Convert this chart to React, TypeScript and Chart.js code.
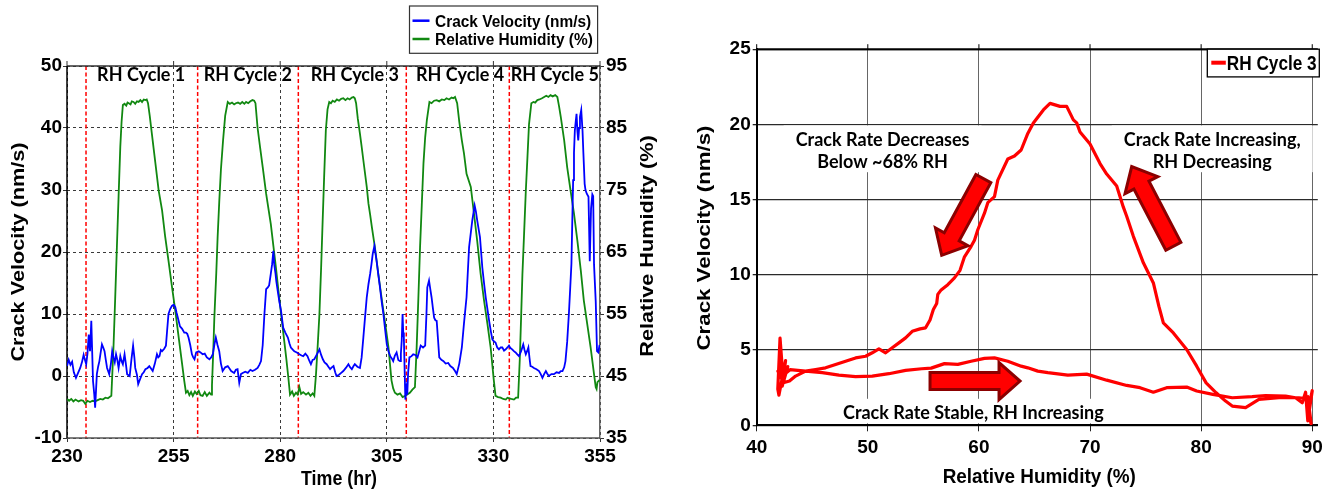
import React, { useEffect, useRef } from "react";
import { Chart, registerables } from "chart.js";

Chart.register(...registerables);

// ---------------- Left panel data (time series) ----------------
const timeCV = [
  230.0, 230.4, 230.8, 231.2, 231.6, 232.1, 232.6, 233.1, 233.5, 233.9, 234.2, 234.5, 234.8, 235.1, 235.4, 235.7,
  236.1, 236.4, 236.6, 237.0, 237.3, 237.6, 237.9, 238.2, 238.5, 238.8, 239.1, 239.4, 239.9, 240.3, 240.6, 240.9,
  241.2, 241.5, 241.8, 242.1, 242.5, 242.8, 243.1, 243.5, 243.8, 244.1, 244.7, 245.1, 245.5, 245.8, 246.0, 246.4,
  246.7, 247.2, 247.6, 248.0, 248.4, 248.9, 249.3, 249.7, 250.1, 250.6, 251.1, 251.4, 251.7, 252.0, 252.3, 252.8,
  253.2, 253.5, 253.8, 254.2, 254.6, 255.0, 255.4, 255.7, 256.0, 256.5, 257.0, 257.5, 257.9, 258.2, 258.5, 258.9,
  259.3, 259.6, 259.9, 260.3, 260.9, 261.3, 261.8, 262.3, 262.8, 263.4, 263.8, 264.2, 264.6, 264.9, 265.3, 265.7,
  266.1, 266.5, 267.1, 267.7, 268.1, 268.5, 269.2, 269.6, 270.0, 270.4, 270.8, 271.2, 271.8, 272.4, 273.0, 273.5,
  274.1, 274.7, 275.1, 275.5, 275.9, 276.3, 276.7, 277.1, 277.4, 277.8, 278.1, 278.4, 278.6, 278.9, 279.1, 279.4,
  279.8, 280.2, 280.7, 281.2, 281.8, 282.2, 282.5, 283.0, 283.3, 283.9, 284.5, 285.0, 285.4, 285.9, 286.4, 286.8,
  287.2, 287.6, 288.0, 288.6, 289.2, 289.6, 290.0, 290.4, 290.9, 291.3, 291.7, 292.1, 292.5, 292.9, 293.2, 293.8,
  294.3, 294.8, 295.4, 296.0, 296.4, 296.8, 297.2, 297.5, 298.1, 298.7, 299.1, 299.5, 299.9, 300.3, 300.7, 301.1,
  301.4, 301.7, 302.1, 302.3, 302.6, 303.0, 303.4, 303.8, 304.2, 304.6, 305.0, 305.4, 305.8, 306.2, 306.5, 306.9,
  307.3, 307.7, 308.1, 308.3, 308.5, 308.7, 308.85, 309.0, 309.2, 309.35, 309.6, 309.8, 310.0, 310.3, 310.8, 311.2,
  311.7, 312.2, 312.6, 312.95, 313.5, 314.0, 314.3, 314.5, 314.9, 315.2, 315.5, 315.8, 316.1, 316.4, 316.7, 317.0,
  317.3, 317.8, 318.3, 318.8, 319.4, 319.9, 320.5, 321.0, 321.4, 322.0, 322.6, 323.1, 323.7, 324.3, 325.05, 325.6,
  325.9, 326.2, 326.85, 327.4, 327.8, 328.2, 328.6, 329.0, 329.4, 329.75, 330.1, 330.5, 330.9, 331.3, 331.7, 332.1,
  332.5, 332.9, 333.3, 333.65, 334.0, 334.4, 334.8, 335.2, 335.6, 336.0, 336.5, 337.0, 337.3, 337.6, 337.9, 338.2,
  338.45, 338.7, 339.1, 339.5, 340.1, 340.7, 341.1, 341.5, 341.9, 342.3, 342.6, 343.0, 343.6, 344.2, 344.8, 345.4,
  345.8, 346.2, 346.6, 346.9, 347.3, 347.7, 348.0, 348.3, 348.5, 348.7, 348.9, 349.1, 349.3, 349.5, 349.7, 349.9,
  350.1, 350.3, 350.6, 350.9, 351.1, 351.4, 351.6, 351.9, 352.3, 352.6, 352.9, 353.2, 353.4, 353.6, 354.0, 354.3,
  354.6, 354.9,
];
const velocity = [
  1.6, 2.6, 1.8, 2.3, 0.6, -0.3, 0.5, 1.3, 2.2, 3.4, 2.6, 1.9, 3.6, 6.7, 4.0, 8.9,
  -0.8, -3.0, -5.1, 0.3, 1.5, 2.4, 3.8, 5.1, 4.6, 4.0, 2.6, 1.3, 0.3, 2.0, 4.0, 3.0,
  2.2, 3.5, 2.6, 1.3, 3.2, 2.4, 1.9, 3.5, 2.0, 0.3, 0.0, 2.6, 4.9, 3.0, 1.3, 0.2,
  -1.3, -0.4, 0.3, 0.6, 1.1, 1.3, 1.6, 1.2, 0.8, 2.0, 3.5, 3.0, 3.2, 4.2, 4.0, 4.4,
  4.9, 7.5, 10.0, 10.8, 11.3, 11.5, 11.1, 10.2, 9.4, 8.0, 7.6, 7.0, 7.0, 6.8, 6.2, 5.0,
  3.5, 3.0, 2.7, 3.8, 4.0, 3.8, 3.5, 3.6, 3.0, 2.7, 3.0, 3.5, 5.2, 6.2, 5.0, 4.0,
  2.0, 0.8, 1.4, 1.6, 1.2, 0.8, 0.5, 1.0, 1.1, -1.1, 0.3, 0.5, 0.7, 0.5, 1.0, 0.8,
  1.0, 1.3, 1.8, 2.4, 5.0, 10.0, 14.0, 14.3, 14.6, 16.5, 18.0, 20.2, 18.0, 16.5, 15.2, 13.8,
  12.0, 10.5, 7.8, 7.0, 6.2, 5.2, 4.6, 4.2, 4.0, 3.8, 3.5, 3.3, 3.2, 3.6, 3.2, 2.5,
  1.9, 2.6, 2.7, 3.5, 4.3, 3.4, 2.7, 2.2, 1.9, 1.5, 1.1, 1.4, 1.6, 0.6, 0.0, 0.2,
  0.5, 0.8, 1.3, 1.9, 1.4, 1.1, 1.6, 1.9, 1.5, 1.3, 3.0, 6.2, 9.5, 12.7, 14.8, 16.5,
  18.0, 19.7, 21.0, 20.0, 18.6, 16.4, 14.3, 12.0, 10.0, 7.5, 5.1, 4.0, 3.2, 2.8, 2.4, 3.3,
  3.8, 2.6, 2.4, 3.6, 5.7, 10.0, 7.0, 6.2, 0.5, -3.8, -2.0, -3.0, 0.5, 3.0, 3.2, 3.5,
  3.4, 3.0, 4.0, 4.9, 4.6, 4.9, 10.0, 14.3, 15.4, 14.0, 12.7, 11.0, 9.4, 9.0, 8.9, 6.0,
  3.0, 2.6, 2.4, 2.0, 2.1, 1.6, 1.3, 0.8, 0.3, 2.0, 4.6, 8.5, 12.7, 20.8, 25.1, 27.5,
  26.5, 25.1, 22.4, 17.5, 15.0, 12.7, 10.8, 8.9, 7.2, 5.9, 5.6, 5.4, 4.6, 4.3, 4.6, 4.6,
  4.1, 4.3, 4.6, 4.9, 4.5, 4.3, 4.0, 3.8, 3.5, 3.2, 4.0, 5.1, 4.2, 3.5, 4.0, 4.6,
  3.0, 1.6, 1.5, 1.3, 1.1, 0.8, 0.3, -0.3, 0.3, 0.8, 0.4, 0.0, 0.3, 0.3, 0.6, 0.5,
  0.8, 0.8, 1.4, 2.4, 5.5, 10.0, 14.0, 18.1, 25.0, 31.6, 36.0, 39.6, 41.0, 42.3, 39.5, 38.0,
  40.0, 41.8, 42.9, 39.6, 36.0, 31.0, 30.0, 29.4, 28.9, 18.5, 27.0, 29.3, 29.0, 18.0, 12.0, 4.0,
  3.8, 5.0,
];
const timeRH = [
  230.0, 230.5, 231.0, 231.5, 232.0, 232.7, 233.3, 233.8, 234.3, 234.8, 235.4, 236.0, 236.6, 237.2, 237.8, 238.4,
  239.0, 239.6, 240.4, 240.9, 241.3, 241.7, 242.1, 242.5, 242.8, 243.1, 243.5, 243.9, 244.2, 244.5, 244.9, 245.2,
  245.6, 246.0, 246.4, 246.8, 247.2, 247.6, 248.0, 248.4, 248.7, 249.0, 249.4, 249.9, 250.7, 251.5, 252.3, 253.0,
  253.8, 254.6, 255.4, 256.2, 257.0, 257.5, 257.9, 258.3, 258.7, 259.1, 259.5, 260.0, 260.4, 260.9, 261.3, 261.8,
  262.3, 262.8, 263.4, 263.8, 264.0, 264.3, 264.55, 265.0, 265.33, 265.7, 266.1, 266.6, 267.1, 267.7, 268.2, 268.7,
  269.2, 269.6, 270.1, 270.6, 271.1, 271.6, 272.0, 272.5, 273.0, 273.5, 273.9, 274.2, 274.7, 275.3, 275.9, 276.7,
  277.8, 278.4, 279.0, 279.6, 280.2, 280.8, 281.4, 281.9, 282.3, 282.8, 283.2, 283.7, 284.1, 284.5, 284.9, 285.4,
  286.05, 286.6, 287.1, 287.6, 288.0, 288.4, 288.8, 289.2, 289.6, 289.96, 290.3, 290.7, 291.1, 291.5, 291.9, 292.3,
  292.8, 293.3, 293.8, 294.3, 294.8, 295.3, 295.8, 296.3, 296.8, 297.2, 297.5, 297.8, 298.2, 298.7, 299.1, 299.5,
  300.3, 300.7, 301.1, 301.5, 302.2, 303.0, 303.6, 304.2, 304.8, 305.4, 305.8, 306.1, 306.5, 306.9, 307.5, 308.1,
  308.7, 309.3, 309.8, 310.4, 311.0, 311.6, 312.0, 312.4, 312.8, 313.2, 313.6, 314.0, 314.4, 315.0, 315.5, 316.1,
  316.7, 317.3, 317.9, 318.5, 319.0, 319.6, 320.2, 320.6, 321.0, 321.5, 322.0, 322.6, 323.1, 323.7, 324.7, 325.45,
  326.2, 327.0, 327.8, 328.6, 329.35, 330.1, 330.5, 331.1, 331.7, 332.3, 332.9, 333.3, 333.7, 334.2, 334.8, 335.3,
  335.8, 336.2, 336.5, 336.8, 337.2, 337.6, 338.0, 338.35, 338.9, 339.4, 339.8, 340.3, 340.8, 341.4, 341.9, 342.4,
  342.9, 343.4, 343.9, 344.5, 345.0, 345.4, 345.8, 346.6, 347.3, 348.1, 348.9, 349.7, 350.5, 351.2, 352.0, 352.8,
  353.6, 354.0, 354.2, 354.4, 354.8, 355.0,
];
const humidity = [
  41.3, 41.0, 41.3, 40.9, 41.2, 40.9, 41.1, 41.0, 40.5, 41.0, 40.8, 41.0, 40.9, 41.1, 41.3, 41.2,
  41.5, 41.4, 41.8, 49.6, 57.5, 65.8, 74.0, 82.0, 86.0, 88.7, 88.9, 88.6, 89.1, 89.0, 88.8, 89.3,
  89.2, 88.9, 89.3, 89.2, 89.5, 89.2, 89.6, 89.5, 89.6, 89.0, 87.0, 84.1, 79.5, 74.9, 71.7, 67.6,
  63.6, 59.5, 55.5, 51.2, 46.9, 44.2, 42.3, 42.6, 41.9, 42.4, 41.8, 42.5, 42.1, 42.6, 41.9, 41.8,
  42.4, 41.8, 42.3, 42.0, 43.5, 49.0, 54.3, 61.5, 67.5, 73.0, 78.3, 83.0, 87.0, 89.2, 88.9, 89.1,
  88.8, 89.0, 89.1, 88.9, 89.2, 88.9, 89.2, 89.0, 89.3, 89.5, 89.4, 89.0, 85.0, 81.8, 78.7, 74.4,
  69.5, 66.0, 62.5, 58.7, 55.0, 51.5, 48.0, 44.8, 42.0, 42.5, 41.8, 42.3, 42.0, 43.2, 42.1, 42.4,
  42.0, 42.3, 41.8, 42.2, 41.8, 45.3, 50.0, 55.0, 62.5, 70.1, 77.0, 84.6, 88.0, 89.2, 89.0, 89.4,
  89.2, 89.6, 89.4, 89.7, 89.8, 89.5, 89.8, 89.6, 89.9, 90.0, 89.8, 89.0, 86.5, 84.1, 82.0, 79.8,
  75.5, 72.8, 71.0, 69.0, 65.8, 61.5, 58.5, 55.5, 52.6, 49.6, 46.5, 44.3, 43.0, 42.3, 42.0, 42.2,
  41.6, 41.8, 42.0, 42.3, 42.8, 43.2, 49.6, 57.5, 65.8, 72.5, 79.3, 83.5, 86.3, 89.2, 89.0, 89.4,
  89.5, 89.3, 89.6, 89.5, 89.8, 89.6, 89.9, 89.8, 90.0, 89.0, 86.0, 83.0, 80.9, 77.6, 75.5, 71.2,
  66.8, 61.5, 57.2, 53.4, 49.6, 44.3, 41.8, 41.6, 41.5, 41.3, 41.2, 41.5, 41.4, 41.3, 41.2, 41.5,
  41.5, 47.9, 54.5, 61.3, 68.0, 74.8, 80.5, 85.6, 89.0, 89.2, 89.1, 89.5, 89.6, 89.8, 90.0, 90.2,
  90.0, 90.3, 90.1, 90.3, 90.0, 88.5, 86.8, 83.0, 78.7, 74.9, 71.2, 66.8, 62.0, 57.2, 53.4, 49.6,
  45.3, 43.2, 42.9, 44.0, 44.3, 44.2,
];
const cycleBoundaries = [234.46, 260.64, 284.25, 309.57, 333.73];
const cycleNames = ["RH Cycle 1", "RH Cycle 2", "RH Cycle 3", "RH Cycle 4", "RH Cycle 5"];
const cycleLabelTimes = [247.4, 272.4, 297.5, 322.2, 344.4];

// ---------------- Right panel data (RH Cycle 3 loop) ----------------
const loopRH = [
  42.0, 42.3, 41.9, 42.5, 43.0, 44.4, 45.9, 47.4, 48.9, 50.4, 51.9, 53.4, 54.85, 55.7, 56.9, 58.1,
  59.3, 60.5, 61.4, 62.6, 63.8, 64.4, 65.3, 66.2, 68.0, 69.7, 71.5, 73.3, 74.5, 75.7, 76.9, 78.7,
  79.6, 81.05, 82.8, 84.6, 85.8, 87.6, 88.5, 89.1, 89.4, 89.6, 89.8, 90.0, 89.7, 89.5, 89.9, 89.6,
  89.2, 88.8, 87.0, 85.2, 84.0, 82.8, 82.2, 81.35, 80.45, 79.6, 78.7, 77.5, 76.6, 76.2, 75.7, 74.8,
  73.9, 73.3, 73.0, 72.4, 71.5, 70.9, 70.0, 69.1, 68.8, 68.5, 67.9, 67.3, 66.4, 65.8, 64.9, 64.4,
  63.8, 63.2, 62.6, 61.7, 61.4, 60.8, 60.5, 59.9, 59.6, 59.3, 58.7, 58.3, 57.8, 57.2, 56.6, 56.3,
  56.2, 55.9, 55.6, 55.2, 54.7, 54.0, 53.4, 52.8, 52.2, 51.6, 51.0, 50.4, 49.8, 48.9, 48.0, 47.1,
  46.2, 45.3, 44.4, 43.5, 42.95, 42.4, 42.1, 41.9, 42.0, 42.6, 42.3, 42.8, 42.2,
];
const loopVelocity = [
  4.2, 3.0, 3.6, 3.4, 3.7, 3.6, 3.5, 3.33, 3.24, 3.27, 3.43, 3.65, 3.76, 3.8, 4.1, 4.05,
  4.26, 4.45, 4.48, 4.26, 3.93, 3.82, 3.6, 3.5, 3.33, 3.4, 3.0, 2.65, 2.5, 2.2, 2.5, 2.54,
  2.28, 2.06, 1.83, 1.9, 1.98, 1.94, 1.83, 1.5, 2.2, 0.3, 1.6, 2.3, 0.8, 1.4, 0.1, 1.9,
  1.8, 1.83, 1.83, 1.72, 1.17, 1.28, 1.61, 2.16, 2.82, 3.93, 5.04, 6.14, 6.81, 7.9, 9.46, 10.8,
  12.56, 13.9, 14.5, 15.9, 16.7, 17.4, 18.7, 19.5, 20.1, 20.3, 21.2, 21.2, 21.4, 20.96, 20.1, 19.4,
  18.3, 17.9, 17.7, 16.3, 15.2, 14.8, 14.1, 13.0, 12.3, 11.9, 11.2, 10.3, 9.8, 9.35, 9.0, 8.7,
  8.1, 7.7, 7.0, 6.48, 6.41, 6.25, 5.81, 5.48, 5.15, 4.82, 5.08, 4.82, 4.59, 4.48, 4.26, 4.04,
  3.82, 3.71, 3.6, 3.27, 2.94, 2.83, 5.8, 2.4, 2.0, 4.3, 2.6, 3.9, 3.2,
];
const rhTicks = [40, 50, 60, 70, 80, 90];

// annotation anchors (data units of the right panel)
const annotations = [
  { lines: ["Crack Rate Decreases", "Below ~68% RH"], rh: 51.33, base: [18.57, 17.09] },
  { lines: ["Crack Rate Increasing,", "RH Decreasing"], rh: 81.0, base: [18.57, 17.09] },
  { lines: ["Crack Rate Stable, RH Increasing"], rh: 59.5, base: [0.4] },
];
const arrows = [
  { from: [60.4, 16.4], to: [56.65, 11.3] },
  { from: [77.5, 11.9], to: [73.75, 17.2] },
  { from: [55.6, 2.94], to: [63.7, 2.94] },
];

// ---------------- styling helpers ----------------
const SANS = "'Liberation Sans', Arial, Helvetica, sans-serif";
const CAL = "Lato, 'Open Sans', sans-serif";
const TICK_FONT = { family: SANS, size: 19, weight: "bold" as const };

function drawText(
  ctx: CanvasRenderingContext2D,
  text: string,
  x: number,
  y: number,
  font: string,
  opts: { sx?: number; rot?: number; align?: CanvasTextAlign; baseline?: CanvasTextBaseline; color?: string } = {}
) {
  ctx.save();
  ctx.translate(x, y);
  if (opts.rot) ctx.rotate(opts.rot);
  ctx.scale(opts.sx ?? 1, 1);
  ctx.font = font;
  ctx.fillStyle = opts.color ?? "#000";
  ctx.textAlign = opts.align ?? "center";
  ctx.textBaseline = opts.baseline ?? "alphabetic";
  ctx.fillText(text, 0, 0);
  ctx.restore();
}

function seg(ctx: CanvasRenderingContext2D, x0: number, y0: number, x1: number, y1: number) {
  ctx.beginPath();
  ctx.moveTo(x0, y0);
  ctx.lineTo(x1, y1);
  ctx.stroke();
}

function drawArrow(ctx: CanvasRenderingContext2D, x0: number, y0: number, x1: number, y1: number) {
  const dx = x1 - x0, dy = y1 - y0;
  const L = Math.hypot(dx, dy);
  const ux = dx / L, uy = dy / L;
  const nx = -uy, ny = ux;
  const sw = 8.5, hw = 18.5, hl = 21;
  const bx = x1 - ux * hl, by = y1 - uy * hl;
  const pts = [
    [x0 + nx * sw, y0 + ny * sw],
    [bx + nx * sw, by + ny * sw],
    [bx + nx * hw, by + ny * hw],
    [x1, y1],
    [bx - nx * hw, by - ny * hw],
    [bx - nx * sw, by - ny * sw],
    [x0 - nx * sw, y0 - ny * sw],
  ];
  ctx.beginPath();
  pts.forEach((p, i) => (i ? ctx.lineTo(p[0], p[1]) : ctx.moveTo(p[0], p[1])));
  ctx.closePath();
  ctx.fillStyle = "#ff0000";
  ctx.fill();
  ctx.strokeStyle = "#8b0000";
  ctx.lineWidth = 3;
  ctx.lineJoin = "miter";
  ctx.stroke();
}

// ---------------- plugins ----------------
const leftDecor = {
  id: "leftDecor",
  beforeDatasetsDraw(chart: any) {
    const { ctx, chartArea: a, scales } = chart;
    const x = scales.x;
    ctx.save();
    ctx.strokeStyle = "#ff0000";
    ctx.lineWidth = 1.5;
    ctx.setLineDash([4, 2.5]);
    cycleBoundaries.forEach((t) => {
      const px = x.getPixelForValue(t);
      seg(ctx, px, a.top, px, a.bottom);
    });
    ctx.setLineDash([]);
    // solid frame: top, left, bottom
    ctx.strokeStyle = "#333";
    ctx.lineWidth = 1.5;
    seg(ctx, a.left, a.top, a.right, a.top);
    ctx.strokeStyle = "#555";
    seg(ctx, a.left, a.bottom, a.right, a.bottom);
    ctx.strokeStyle = "#000";
    seg(ctx, a.left, a.top, a.left, a.bottom);
    ctx.strokeStyle = "#333";
    ctx.lineWidth = 1;
    x.ticks.forEach((t: any) => {
      const px = x.getPixelForValue(t.value);
      seg(ctx, px, a.top - 5, px, a.top);
    });
    ctx.restore();
  },
  afterDatasetsDraw(chart: any) {
    const { ctx, chartArea: a, scales } = chart;
    const x = scales.x;
    cycleNames.forEach((name, i) => {
      drawText(ctx, name, x.getPixelForValue(cycleLabelTimes[i]), a.top + 15, `bold 18px ${CAL}`);
    });
  },
  afterDraw(chart: any) {
    const { ctx, chartArea: a } = chart;
    ctx.save();
    // legend box
    const lx = 409.5, ly = 6, lw = a.right - 2.4 - 409.5, lh = 47.3;
    ctx.fillStyle = "#fff";
    ctx.fillRect(lx, ly, lw, lh);
    ctx.strokeStyle = "#333";
    ctx.lineWidth = 1.2;
    ctx.strokeRect(lx, ly, lw, lh);
    ctx.lineWidth = 2.5;
    ctx.strokeStyle = "#0000ff";
    seg(ctx, lx + 3, 20.7, lx + 20, 20.7);
    ctx.strokeStyle = "#118811";
    seg(ctx, lx + 3, 39, lx + 20, 39);
    drawText(ctx, "Crack Velocity (nm/s)", lx + 25.5, 26.7, `bold 16px ${SANS}`, { align: "left", sx: 0.965 });
    drawText(ctx, "Relative Humidity (%)", lx + 25.5, 44.5, `bold 16px ${SANS}`, { align: "left", sx: 0.965 });
    // axis titles
    const cy = (a.top + a.bottom) / 2;
    drawText(ctx, "Crack Velocity (nm/s)", a.left - 48, cy, `bold 19px ${SANS}`, {
      rot: -Math.PI / 2, sx: 1.14, baseline: "middle",
    });
    drawText(ctx, "Relative Humidity (%)", a.right + 48, cy - 6, `bold 19px ${SANS}`, {
      rot: -Math.PI / 2, sx: 1.14, baseline: "middle",
    });
    drawText(ctx, "Time (hr)", (a.left + a.right) / 2 + 5.5, a.bottom + 47, `bold 21px ${SANS}`, { sx: 0.85 });
    ctx.restore();
  },
};

const rightDecor = {
  id: "rightDecor",
  beforeDatasetsDraw(chart: any) {
    const { ctx, chartArea: a, scales } = chart;
    const { x, y } = scales;
    ctx.save();
    ctx.strokeStyle = "#000";
    ctx.lineWidth = 2;
    seg(ctx, a.left, a.top, a.right, a.top);
    ctx.lineWidth = 1;
    rhTicks.forEach((v) => {
      const px = x.getPixelForValue(v);
      seg(ctx, px, a.top - 5, px, a.top);
    });
    const font = `bold 18px ${CAL}`;
    ctx.font = font;
    annotations.forEach((an) => {
      const w = Math.max(...an.lines.map((l) => ctx.measureText(l).width));
      const cx = x.getPixelForValue(an.rh);
      const b0 = y.getPixelForValue(an.base[0]);
      const bl = y.getPixelForValue(an.base[an.base.length - 1]);
      ctx.fillStyle = "#fff";
      ctx.fillRect(cx - w / 2 - 12, b0 - 20.5, w + 24, bl - b0 + 24.5);
      an.lines.forEach((l, i) => drawText(ctx, l, cx, y.getPixelForValue(an.base[i]), font));
    });
    ctx.restore();
  },
  afterDatasetsDraw(chart: any) {
    const { ctx, chartArea: a, scales } = chart;
    const { x, y } = scales;
    ctx.save();
    arrows.forEach((ar) => {
      drawArrow(
        ctx,
        x.getPixelForValue(ar.from[0]), y.getPixelForValue(ar.from[1]),
        x.getPixelForValue(ar.to[0]), y.getPixelForValue(ar.to[1])
      );
    });
    // legend
    const lx = a.right - 110.5, ly = a.top, lw = 112, lh = 27.7;
    ctx.fillStyle = "#fff";
    ctx.fillRect(lx, ly, lw, lh);
    ctx.strokeStyle = "#000";
    ctx.lineWidth = 1.3;
    ctx.strokeRect(lx, ly, lw, lh);
    ctx.strokeStyle = "#ff0000";
    ctx.lineWidth = 4;
    seg(ctx, lx + 4, ly + 13.5, lx + 18.5, ly + 13.5);
    drawText(ctx, "RH Cycle 3", lx + 19.5, ly + 21, `bold 20px ${SANS}`, { align: "left", sx: 0.86 });
    ctx.restore();
  },
  afterDraw(chart: any) {
    const { ctx, chartArea: a } = chart;
    drawText(ctx, "Crack Velocity (nm/s)", a.left - 52, 238, `bold 19px ${SANS}`, {
      rot: -Math.PI / 2, sx: 1.17, baseline: "middle",
    });
    drawText(ctx, "Relative Humidity (%)", (a.left + a.right) / 2 + 2, 483, `bold 21px ${SANS}`, { sx: 0.9 });
  },
};

export default function App() {
  const leftRef = useRef<HTMLCanvasElement>(null);
  const rightRef = useRef<HTMLCanvasElement>(null);

  useEffect(() => {
    const left = new Chart(leftRef.current as HTMLCanvasElement, {
      type: "line",
      data: {
        datasets: [
          {
            label: "Crack Velocity (nm/s)",
            data: timeCV.map((t, i) => ({ x: t, y: velocity[i] })),
            borderColor: "#0000ff",
            borderWidth: 1.8,
            pointRadius: 0,
            tension: 0,
            yAxisID: "y",
          },
          {
            label: "Relative Humidity (%)",
            data: timeRH.map((t, i) => ({ x: t, y: humidity[i] })),
            borderColor: "#118811",
            borderWidth: 1.8,
            pointRadius: 0,
            tension: 0,
            yAxisID: "y2",
          },
        ],
      },
      options: {
        responsive: false,
        animation: false,
        events: [],
        layout: { padding: { top: 66, left: 0, right: 0, bottom: 0 } },
        plugins: { legend: { display: false }, tooltip: { enabled: false } },
        scales: {
          x: {
            type: "linear",
            min: 230,
            max: 355,
            ticks: { stepSize: 25, font: TICK_FONT, color: "#000", padding: 3, maxRotation: 0, autoSkip: false },
            grid: { color: "#3a3a3a", lineWidth: 1, tickLength: 4, tickColor: "#333" },
            border: { display: false, dash: [3, 3] },
            afterFit: (s: any) => { s.height = 52; },
          },
          y: {
            type: "linear",
            position: "left",
            min: -10,
            max: 50,
            ticks: { stepSize: 10, font: TICK_FONT, color: "#000", padding: 1 },
            grid: { color: "#3a3a3a", lineWidth: 1, tickLength: 4, tickColor: "#333" },
            border: { display: false, dash: [3, 3] },
            afterFit: (s: any) => { s.width = 67; },
          },
          y2: {
            type: "linear",
            position: "right",
            min: 35,
            max: 95,
            ticks: { stepSize: 10, font: TICK_FONT, color: "#000", padding: 2 },
            grid: { drawOnChartArea: false, tickLength: 4, tickColor: "#333" },
            border: { display: true, color: "#666", width: 1.5 },
            afterFit: (s: any) => { s.width = 60; },
          },
        },
      },
      plugins: [leftDecor],
    } as any);

    const right = new Chart(rightRef.current as HTMLCanvasElement, {
      type: "line",
      data: {
        datasets: [
          {
            label: "RH Cycle 3",
            data: loopRH.map((r, i) => ({ x: r, y: loopVelocity[i] })),
            borderColor: "#ff0000",
            borderWidth: 3.2,
            pointRadius: 0,
            tension: 0,
            borderJoinStyle: "round",
            borderCapStyle: "round",
          },
        ],
      },
      options: {
        responsive: false,
        animation: false,
        events: [],
        layout: { padding: { top: 49.2, left: 0, right: 10.2, bottom: 0 } },
        plugins: { legend: { display: false }, tooltip: { enabled: false } },
        scales: {
          x: {
            type: "linear",
            min: 40,
            max: 90.5,
            afterBuildTicks: (s: any) => { s.ticks = rhTicks.map((v) => ({ value: v })); },
            ticks: { font: TICK_FONT, color: "#000", padding: 5, maxRotation: 0, autoSkip: false },
            grid: { color: "#666", lineWidth: 1, tickLength: 6, tickColor: "#222" },
            border: { display: true, color: "#000", width: 2 },
            afterFit: (s: any) => { s.height = 64.7; },
          },
          y: {
            type: "linear",
            min: 0,
            max: 25,
            ticks: { stepSize: 5, font: TICK_FONT, color: "#000", padding: 2 },
            grid: { color: "#2a2a2a", lineWidth: 1.3, tickLength: 4, tickColor: "#222" },
            border: { display: true, color: "#000", width: 2 },
            afterFit: (s: any) => { s.width = 96.7; },
          },
        },
      },
      plugins: [rightDecor],
    } as any);

    return () => {
      left.destroy();
      right.destroy();
    };
  }, []);

  return (
    <div style={{ position: "absolute", left: 0, top: 0, width: 1328, height: 490, overflow: "hidden", background: "#fff" }}>
      <canvas ref={leftRef} width={660} height={490} style={{ position: "absolute", left: 0, top: 0 }} />
      <canvas ref={rightRef} width={668} height={490} style={{ position: "absolute", left: 660, top: 0 }} />
    </div>
  );
}
